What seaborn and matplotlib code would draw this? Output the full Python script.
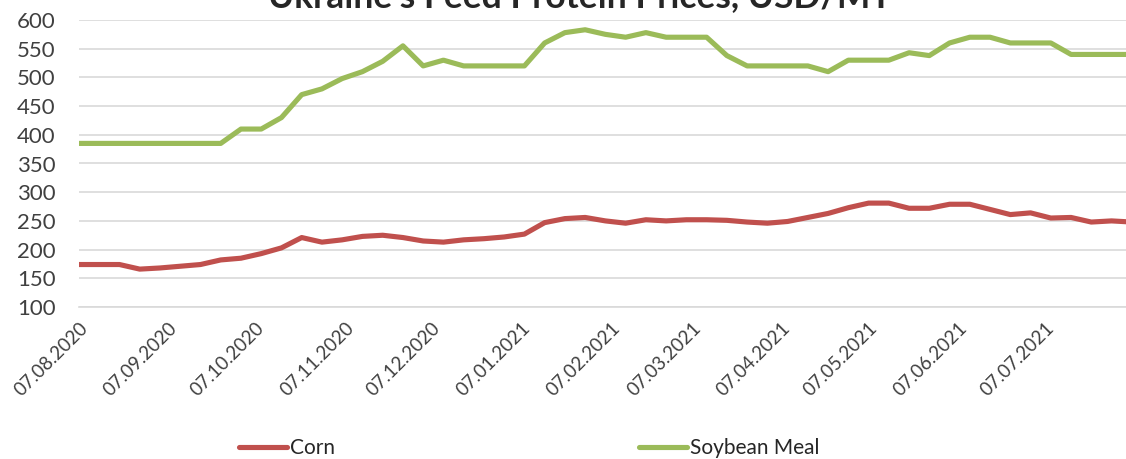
import pandas as pd
import matplotlib.pyplot as plt
import seaborn as sns

# weekly prices, USD/MT, starting 07.08.2020
start_date = '2020-08-07'
corn = [174, 174, 174, 166, 168, 171, 174, 182, 185, 193,
        203, 221, 213, 217, 223, 225, 221, 215, 213, 217,
        219, 222, 227, 247, 254, 256, 250, 246, 252, 250,
        252, 252, 251, 248, 246, 249, 256, 263, 273, 281,
        281, 272, 272, 279, 279, 270, 261, 264, 255, 256,
        248, 250, 248]
soybean_meal = [385, 385, 385, 385, 385, 385, 385, 385, 410, 410,
                430, 470, 480, 498, 510, 528, 555, 520, 530, 520,
                520, 520, 520, 560, 578, 583, 575, 570, 578, 570,
                570, 570, 538, 520, 520, 520, 520, 510, 530, 530,
                530, 543, 538, 560, 570, 570, 560, 560, 560, 540,
                540, 540, 540]
tick_labels = ['07.08.2020', '07.09.2020', '07.10.2020', '07.11.2020',
               '07.12.2020', '07.01.2021', '07.02.2021', '07.03.2021',
               '07.04.2021', '07.05.2021', '07.06.2021', '07.07.2021']
series_names = ['Corn', 'Soybean Meal']
colors = ['#C0504D', '#9BBB59']

dates = pd.date_range(start=start_date, periods=len(corn), freq='7D')
df = pd.DataFrame({'Date': dates, 'Corn': corn, 'Soybean Meal': soybean_meal})
long_df = df.melt(id_vars='Date', var_name='Series', value_name='Price')

sns.set_style('white')
plt.rcParams['font.family'] = ['Lato', 'DejaVu Sans']

fig = plt.figure(figsize=(11.26, 4.59), dpi=100)
ax = fig.add_axes([79 / 1126, 1 - 307 / 459, 1 - 79 / 1126, (307 - 20) / 459])

sns.lineplot(data=long_df, x='Date', y='Price', hue='Series',
             hue_order=series_names, palette=colors, linewidth=3.7,
             solid_capstyle='round', ax=ax, legend=True)
handles, labels = ax.get_legend_handles_labels()
ax.get_legend().remove()

# axes ranges and ticks
ax.set_ylim(100, 600)
ax.set_yticks(range(100, 601, 50))
ax.set_xlim(dates[0], dates[0] + pd.Timedelta(days=362))
tick_dates = pd.to_datetime(tick_labels, format='%d.%m.%Y')
ax.set_xticks(tick_dates)
ax.set_xticklabels(tick_labels, rotation=45, ha='right',
                   rotation_mode='anchor', fontsize=13.5, color='#404040')
ax.tick_params(axis='x', length=5, width=1, color='#BFBFBF', pad=4)
ax.set_xlabel('')
ax.set_ylabel('')

for lbl in ax.get_yticklabels():
    lbl.set_fontsize(16)
    lbl.set_color('#404040')
ax.tick_params(axis='y', left=False, length=0, pad=17)

ax.grid(axis='y', color='#D9D9D9', linewidth=1.2)
ax.grid(axis='x', visible=False)
for side in ['left', 'right', 'top']:
    ax.spines[side].set_visible(False)
ax.spines['bottom'].set_color('#D9D9D9')
ax.spines['bottom'].set_linewidth(1.2)
ax.set_axisbelow(True)

fig.text(580 / 1126, 1 - 7 / 459, "Ukraine's Feed Protein Prices, USD/MT",
         ha='center', va='baseline', fontsize=25.5, fontweight='bold')

fig.legend(handles, labels, loc='center', bbox_to_anchor=(529 / 1126, 1 - 448 / 459),
           ncol=2, frameon=False, fontsize=15, handlelength=2.3,
           handletextpad=0.15, columnspacing=14.6)

fig.savefig('out.png', dpi=100)
